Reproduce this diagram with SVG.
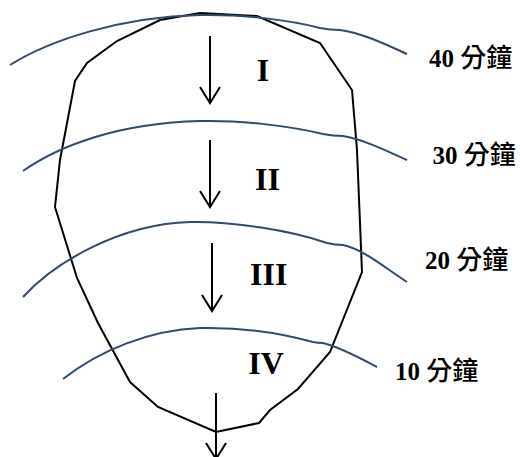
<svg xmlns="http://www.w3.org/2000/svg" width="520" height="457" viewBox="0 0 520 457">
<style>
.outline{fill:none;stroke:#000;stroke-width:2;stroke-linejoin:miter}
.curve{fill:none;stroke:#2E4A6C;stroke-width:2}
.arrow{fill:none;stroke:#000;stroke-width:2}
.roman{font-family:"Liberation Serif","Times New Roman",serif;font-weight:bold;font-size:32px;fill:#000;text-anchor:middle}
.lbl{font-family:"Liberation Serif","Noto Sans CJK TC",serif;font-weight:bold;font-size:25px;fill:#000}
.cjk{font-family:"Noto Sans CJK TC","Noto Sans CJK SC",sans-serif;font-weight:500;font-size:26px}
</style>
<defs>
<marker id="head" markerUnits="userSpaceOnUse" markerWidth="24" markerHeight="24" viewBox="-18 -12 20 24" refX="0" refY="0" orient="auto" overflow="visible">
<path d="M-16,-10 L0,0 L-16,10" fill="none" stroke="#000" stroke-width="2"/>
</marker>
</defs>
<g id="outline">
<polygon class="outline" points="200,13 257,16 320,43 352,90 357,150 362,272 330,352 298,389 270,410 259,423 216,432 158,407 130,382 98,323 77,278 55,207 60,160 75,81 87,63 117,41 160,20"/>
</g>
<g id="curves">
<path id="c40" class="curve" d="M10,65 C50,40 120,17 200,15 C240,14 290,20 320,28 Q330,30 340,30 C362,33 385,44 407,54"/>
<path id="c30" class="curve" d="M23,171 C60,145 120,123 200,121 C240,120 290,126 323,134 Q333,136 343,136 C362,139 385,150 407,160"/>
<path id="c20" class="curve" d="M23,297 C55,262 120,224 190,222 C230,221 290,230 327,243 Q335,245 343,245 C365,250 385,268 407,282"/>
<path id="c10" class="curve" d="M63,379 C100,350 150,330 200,328 C240,327 280,333 313,342 Q318,343 323,343 C340,347 360,358 377,367"/>
</g>
<g id="connectors">
<line class="arrow" x1="210" y1="36" x2="210" y2="103" marker-end="url(#head)"/>
<line class="arrow" x1="210" y1="140" x2="210" y2="207" marker-end="url(#head)"/>
<line class="arrow" x1="212" y1="243" x2="212" y2="311" marker-end="url(#head)"/>
<line class="arrow" x1="216" y1="393" x2="216" y2="459" marker-end="url(#head)"/>
</g>
<g id="zone-I"><text class="roman" x="263" y="81">I</text></g>
<g id="zone-II"><text class="roman" x="267.5" y="190">II</text></g>
<g id="zone-III"><text class="roman" x="268.7" y="285">III</text></g>
<g id="zone-IV"><text class="roman" x="266" y="374">IV</text></g>
<g id="label-40"><text class="lbl" x="429" y="66.5">40 <tspan class="cjk">分鐘</tspan></text></g>
<g id="label-30"><text class="lbl" x="432.5" y="164">30 <tspan class="cjk">分鐘</tspan></text></g>
<g id="label-20"><text class="lbl" x="425" y="269">20 <tspan class="cjk">分鐘</tspan></text></g>
<g id="label-10"><text class="lbl" x="395" y="380">10 <tspan class="cjk">分鐘</tspan></text></g>
</svg>
